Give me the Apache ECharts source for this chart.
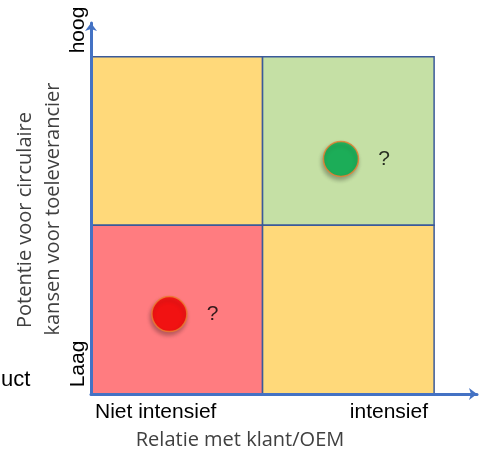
<!DOCTYPE html>
<html>
<head>
<meta charset="utf-8">
<script src="https://cdn.jsdelivr.net/npm/echarts@6/dist/echarts.min.js"></script>
<style>
  html, body { margin: 0; padding: 0; background: #ffffff; }
  #chart { width: 480px; height: 454px; }
</style>
</head>
<body>
<div id="chart"></div>
<script>
// Axis end labels and titles
const xLabels = ['Niet intensief', 'intensief'];
const yLabels = ['Laag', 'hoog'];
const xTitle = 'Relatie met klant/OEM';
const yTitle = ['Potentie voor circulaire', 'kansen voor toeleverancier'];
const sideLabel = 'uct';

// Quadrants as [column, row] cells of the 2x2 matrix
const quadrants = [[0, 1], [1, 1], [0, 0], [1, 0]];
const quadrantColors = ['#FFD97A', '#C5E0A5', '#FF7C80', '#FFD97A'];

// Positioned items in the matrix
const points = [[0.457, 0.474], [1.457, 1.394]];
const pointColors = ['#FF0000', '#00B050'];
const pointLabels = ['?', '?'];

const chart = echarts.init(document.getElementById('chart'), null, { renderer: 'canvas' });

const SANS = '"Liberation Sans", Arial, sans-serif';
const TITLE_FONT = '"Open Sans", sans-serif';

const axisCommon = {
  type: 'value',
  min: 0,
  z: 5,
  axisLine: {
    show: true,
    symbol: ['none', 'arrow'],
    symbolSize: [9, 8],
    lineStyle: { color: '#4472C4', width: 3 }
  },
  axisTick: { show: false },
  axisLabel: { show: false },
  splitLine: { show: false }
};

const txt = (text, x, y, opts) => Object.assign({
  type: 'text',
  x: x, y: y,
  style: Object.assign({
    text: text,
    fill: '#000000',
    font: '21px ' + SANS,
    align: 'center',
    verticalAlign: 'middle'
  }, opts && opts.style)
}, opts && opts.el);

chart.setOption({
  animation: false,
  grid: { left: 91, right: 3, top: 23, bottom: 60 },
  xAxis: Object.assign({}, axisCommon, { max: 2.25 }),
  yAxis: Object.assign({}, axisCommon, { max: 2.2 }),
  series: [
    {
      type: 'custom',
      z: 2,
      data: quadrants.map((q, i) => [q[0], q[1], i]),
      renderItem: function (params, api) {
        const c = api.value(0), r = api.value(1), i = api.value(2);
        const p0 = api.coord([c, r + 1]);
        const p1 = api.coord([c + 1, r]);
        return {
          type: 'rect',
          shape: { x: p0[0], y: p0[1], width: p1[0] - p0[0], height: p1[1] - p0[1] },
          style: { fill: quadrantColors[i], stroke: '#3A5A9A', lineWidth: 1.5 }
        };
      }
    },
    {
      type: 'scatter',
      z: 4,
      symbol: 'circle',
      symbolSize: 35,
      data: points.map((p, i) => ({
        value: p,
        itemStyle: { color: pointColors[i] },
        label: { formatter: pointLabels[i] }
      })),
      itemStyle: {
        borderColor: '#ED7D31',
        borderWidth: 1.5,
        shadowBlur: 4,
        shadowOffsetX: -1,
        shadowOffsetY: 3,
        shadowColor: 'rgba(0,0,0,0.35)'
      },
      label: {
        show: true,
        position: 'right',
        distance: 19,
        color: '#000000',
        fontSize: 21,
        fontFamily: SANS
      },
      emphasis: { disabled: true }
    }
  ],
  graphic: [
    txt(yLabels[1], 78, 30, { el: { rotation: Math.PI / 2 } }),
    txt(yLabels[0], 78, 364, { el: { rotation: Math.PI / 2 } }),
    txt(sideLabel, 1, 380, { style: { align: 'left', font: '22px ' + SANS } }),
    txt(yTitle[0], 25, 220, { el: { rotation: Math.PI / 2 }, style: { fill: '#404040', font: '20px ' + TITLE_FONT } }),
    txt(yTitle[1], 53, 209, { el: { rotation: Math.PI / 2 }, style: { fill: '#404040', font: '20px ' + TITLE_FONT } }),
    txt(xLabels[0], 95, 412, { style: { align: 'left' } }),
    txt(xLabels[1], 428, 412, { style: { align: 'right' } }),
    txt(xTitle, 240, 440, { style: { fill: '#404040', font: '20px ' + TITLE_FONT } })
  ]
});
</script>
</body>
</html>
